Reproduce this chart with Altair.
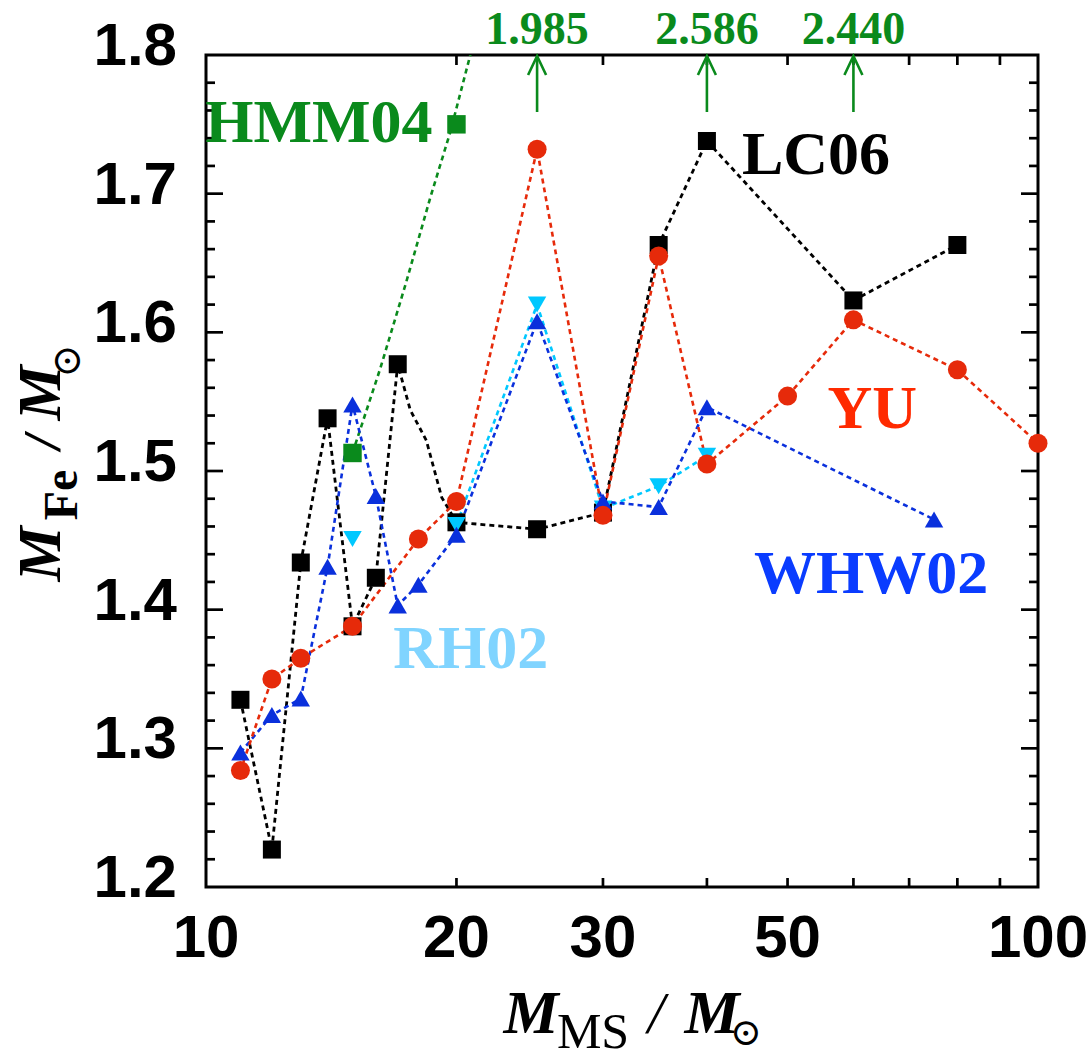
import altair as alt
import pandas as pd

# ---------------- data ----------------
# LC06 (black squares)
lc06_mass = [11, 12, 13, 14, 15, 16, 17, 20, 25, 30, 35, 40, 60, 80]
lc06_mfe = [1.335, 1.227, 1.434, 1.538, 1.388, 1.423, 1.577, 1.463, 1.458, 1.470, 1.663, 1.738, 1.623, 1.663]
# vertices of the dotted LC06 curve (includes unmarked bends between 17 and 20)
lc06_path_mass = [11, 12, 13, 14, 15, 16, 17, 17.6, 18.4, 19.2, 20, 25, 30, 35, 40, 60, 80]
lc06_path_mfe = [1.335, 1.227, 1.434, 1.538, 1.388, 1.423, 1.577, 1.544, 1.522, 1.481, 1.463, 1.458, 1.470, 1.663, 1.738, 1.623, 1.663]

# WHW02 (blue triangles)
whw02_mass = [11, 12, 13, 14, 15, 16, 17, 18, 20, 25, 30, 35, 40, 75]
whw02_mfe = [1.297, 1.324, 1.336, 1.431, 1.548, 1.482, 1.403, 1.418, 1.454, 1.608, 1.478, 1.474, 1.546, 1.465]

# RH02 (cyan down triangles); the curve starts at 20
rh02_mass = [15, 20, 25, 30, 35, 40]
rh02_mfe = [1.451, 1.461, 1.620, 1.473, 1.489, 1.511]
rh02_path_mass = [20, 25, 30, 35, 40]
rh02_path_mfe = [1.461, 1.620, 1.473, 1.489, 1.511]

# YU (red circles)
yu_mass = [11, 12, 13, 15, 18, 20, 25, 30, 35, 40, 50, 60, 80, 100]
yu_mfe = [1.284, 1.350, 1.365, 1.388, 1.451, 1.478, 1.732, 1.468, 1.655, 1.505, 1.554, 1.609, 1.573, 1.520]

# HMM04 (green squares); off-scale values marked with arrows
hmm04_mass = [15, 20]
hmm04_mfe = [1.513, 1.750]
hmm04_path_mass = [15, 16.2, 17.4, 18.6, 19.65, 25, 40, 60]
hmm04_path_mfe = [1.513, 1.574, 1.636, 1.697, 1.744, 1.985, 2.586, 2.440]
arrow_mass = [25, 40, 60]
arrow_mfe = [1.985, 2.586, 2.440]

# axes
x_label_vals = [10, 20, 30, 50, 100]
x_tick_vals = [20, 30, 40, 50, 60, 70, 80, 90]
y_label_vals = [1.2, 1.3, 1.4, 1.5, 1.6, 1.7, 1.8]
y_major_ticks = [1.3, 1.4, 1.5, 1.6, 1.7]
y_minor_ticks = [1.22, 1.24, 1.26, 1.28, 1.32, 1.34, 1.36, 1.38, 1.42, 1.44, 1.46, 1.48,
                 1.52, 1.54, 1.56, 1.58, 1.62, 1.64, 1.66, 1.68, 1.72, 1.74, 1.76, 1.78]

# series name labels (text, mass, M_Fe, colour)
series_labels = [
    ("HMM04", 13.67, 1.737, "#0a8a1c"),
    ("LC06", 54.1, 1.714, "#000000"),
    ("YU", 63.2, 1.531, "#ff2a00"),
    ("WHW02", 63.0, 1.412, "#0a3cff"),
    ("RH02", 20.8, 1.358, "#80d4ff"),
]

# ---------------- styling ----------------
W = H = 832
BLACK = "#000000"
RED = "#e62a0a"
BLUE = "#0a30dc"
CYAN = "#00c8ff"
GREEN = "#0a8a1c"
SERIF = "Liberation Serif"
SANS = "Liberation Sans"

xs = alt.Scale(type="log", domain=[10, 100], nice=False)
ys = alt.Scale(domain=[1.2, 1.8], nice=False, zero=False)


def line_layer(m, v, color, width=2.6):
    df = pd.DataFrame({"mass": m, "mfe": v, "i": list(range(len(m)))})
    return alt.Chart(df).mark_line(
        color=color, strokeWidth=width, strokeDash=[5, 4], clip=True
    ).encode(
        x=alt.X("mass:Q", scale=xs, axis=None),
        y=alt.Y("mfe:Q", scale=ys, axis=None),
        order=alt.Order("i:Q"),
    )


def point_layer(m, v, shape, color, size):
    df = pd.DataFrame({"mass": m, "mfe": v})
    return alt.Chart(df).mark_point(
        shape=shape, filled=True, color=color, size=size, opacity=1, strokeWidth=0
    ).encode(
        x=alt.X("mass:Q", scale=xs, axis=None),
        y=alt.Y("mfe:Q", scale=ys, axis=None),
    )


one = pd.DataFrame({"k": [0]})

# ---- tick rules ----
xtick_df = pd.DataFrame({"v": x_tick_vals})
x_bottom_ticks = alt.Chart(xtick_df).mark_rule(color=BLACK, strokeWidth=2.7).encode(
    x=alt.X("v:Q", scale=xs, axis=None), y=alt.value(H), y2=alt.value(H - 9),
)
x_top_ticks = alt.Chart(xtick_df).mark_rule(color=BLACK, strokeWidth=2.7).encode(
    x=alt.X("v:Q", scale=xs, axis=None), y=alt.value(0), y2=alt.value(10),
)
ymaj_df = pd.DataFrame({"v": y_major_ticks})
ymin_df = pd.DataFrame({"v": y_minor_ticks})
y_left_major = alt.Chart(ymaj_df).mark_rule(color=BLACK, strokeWidth=2.7).encode(
    y=alt.Y("v:Q", scale=ys, axis=None), x=alt.value(0), x2=alt.value(17),
)
y_right_major = alt.Chart(ymaj_df).mark_rule(color=BLACK, strokeWidth=2.7).encode(
    y=alt.Y("v:Q", scale=ys, axis=None), x=alt.value(W), x2=alt.value(W - 17),
)
y_left_minor = alt.Chart(ymin_df).mark_rule(color=BLACK, strokeWidth=2.7).encode(
    y=alt.Y("v:Q", scale=ys, axis=None), x=alt.value(0), x2=alt.value(9),
)
y_right_minor = alt.Chart(ymin_df).mark_rule(color=BLACK, strokeWidth=2.7).encode(
    y=alt.Y("v:Q", scale=ys, axis=None), x=alt.value(W), x2=alt.value(W - 9),
)

# ---- tick labels (through the scales) ----
xlab_df = pd.DataFrame({"v": x_label_vals, "t": [str(v) for v in x_label_vals]})
x_labels = alt.Chart(xlab_df).mark_text(
    font=SANS, fontWeight="bold", fontSize=60, color=BLACK,
    align="center", baseline="alphabetic",
).encode(x=alt.X("v:Q", scale=xs, axis=None), y=alt.value(902), text="t:N")

ylab_df = pd.DataFrame({"v": y_label_vals, "t": [f"{v:.1f}" for v in y_label_vals]})
y_labels = alt.Chart(ylab_df).mark_text(
    font=SANS, fontWeight="bold", fontSize=60, color=BLACK,
    align="right", baseline="alphabetic", dy=10,
).encode(y=alt.Y("v:Q", scale=ys, axis=None), x=alt.value(-29), text="t:N")

# ---- lines ----
lines = [
    line_layer(hmm04_path_mass, hmm04_path_mfe, GREEN),
    line_layer(lc06_path_mass, lc06_path_mfe, BLACK, 2.8),
    line_layer(rh02_path_mass, rh02_path_mfe, CYAN),
    line_layer(whw02_mass, whw02_mfe, BLUE),
    line_layer(yu_mass, yu_mfe, RED),
]

# ---- markers ----
points = [
    point_layer(lc06_mass, lc06_mfe, "square", BLACK, 324),
    point_layer(hmm04_mass, hmm04_mfe, "square", GREEN, 340),
    point_layer(rh02_mass, rh02_mfe, "triangle-down", CYAN, 340),
    point_layer(whw02_mass, whw02_mfe, "triangle-up", BLUE, 340),
    point_layer(yu_mass, yu_mfe, "circle", RED, 361),
]

# ---- arrows for off-scale HMM04 values ----
arrow_df = pd.DataFrame({"mass": arrow_mass, "mfe": arrow_mfe,
                         "txt": [f"{v:.3f}" for v in arrow_mfe]})
arrow_shafts = alt.Chart(arrow_df).mark_rule(color=GREEN, strokeWidth=2.6).encode(
    x=alt.X("mass:Q", scale=xs, axis=None), y=alt.value(1), y2=alt.value(57),
)
arrow_heads = alt.Chart(arrow_df).mark_point(
    shape="M -0.9 1.9 L 0 0 L 0.9 1.9", filled=False, color=GREEN,
    strokeWidth=2.6, size=400, opacity=1,
).encode(x=alt.X("mass:Q", scale=xs, axis=None), y=alt.value(1))
arrow_text = alt.Chart(arrow_df).mark_text(
    font=SERIF, fontWeight="bold", fontSize=46, color=GREEN,
    align="center", baseline="alphabetic",
).encode(x=alt.X("mass:Q", scale=xs, axis=None), y=alt.value(-11), text="txt:N")

# ---- series labels ----
label_layers = []
for txt, m, v, col in series_labels:
    df = pd.DataFrame({"mass": [m], "mfe": [v], "t": [txt]})
    label_layers.append(
        alt.Chart(df).mark_text(
            font=SERIF, fontWeight="bold", fontSize=62, color=col,
            align="center", baseline="alphabetic",
        ).encode(
            x=alt.X("mass:Q", scale=xs, axis=None),
            y=alt.Y("mfe:Q", scale=ys, axis=None),
            text="t:N",
        )
    )


# ---- axis titles built from pieces (sub-scripts) ----
def piece(t, x, y, size, angle=0, italic=True, bold=True, font=SERIF):
    kw = dict(text=t, font=font, fontSize=size, color=BLACK,
              align="center", baseline="alphabetic")
    if italic:
        kw["fontStyle"] = "italic"
    if bold:
        kw["fontWeight"] = "bold"
    if angle:
        kw["angle"] = angle
    return alt.Chart(one).mark_text(**kw).encode(x=alt.value(x), y=alt.value(y))


title_pieces = [
    # y title (rotated, reads upward)
    piece("M", -146, 499, 62, angle=270),
    piece("Fe", -129, 440, 48, angle=270, italic=False),
    piece("/", -146, 387, 52, angle=270),
    piece("M", -146, 338, 62, angle=270),
    piece("\u2299", -126, 306, 40, angle=270, italic=False, bold=False, font="DejaVu Serif"),
    # x title
    piece("M", 325, 978, 62),
    piece("MS", 387, 993, 50, italic=False, bold=False),
    piece("/", 450, 978, 60, bold=False),
    piece("M", 506, 978, 62),
    piece("\u2299", 540, 990, 38, italic=False, bold=False, font="DejaVu Serif"),
]

chart = alt.layer(
    x_bottom_ticks, x_top_ticks, y_left_major, y_right_major, y_left_minor, y_right_minor,
    x_labels, y_labels,
    *lines, *points, arrow_shafts, arrow_heads, arrow_text, *label_layers, *title_pieces,
).properties(
    width=W, height=H,
    padding={"left": 206, "top": 55, "right": 51, "bottom": 164},
    autosize=alt.AutoSizeParams(type="none"),
    background="white",
).configure_view(stroke=BLACK, strokeWidth=3)

chart.save("out.html", embed_options={"renderer": "svg", "actions": False})
